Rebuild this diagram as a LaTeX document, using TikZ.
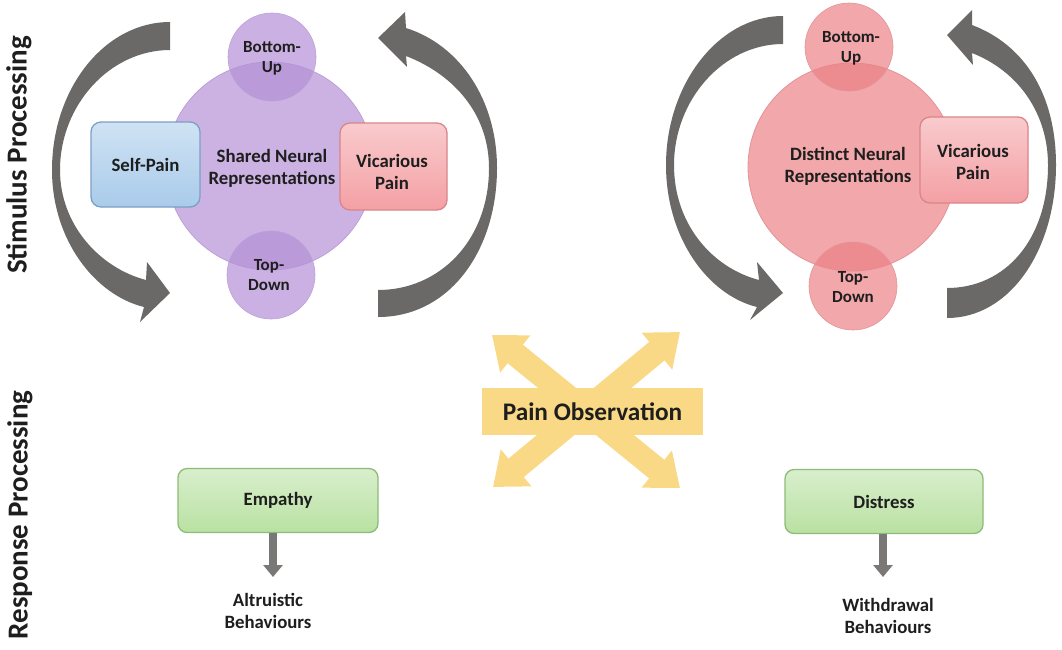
\documentclass[tikz,border=0pt]{standalone}
\usepackage{fontspec}
\setmainfont{Carlito}
\usetikzlibrary{arrows.meta,calc}
\definecolor{gArrow}{HTML}{6B6868}
\definecolor{purpleC}{HTML}{CBB2E3}
\definecolor{purpleS}{HTML}{B590D7}
\definecolor{purpleE}{HTML}{BBA0D8}
\definecolor{pinkC}{HTML}{F2A7AA}
\definecolor{pinkS}{HTML}{EC8186}
\definecolor{pinkE}{HTML}{E39498}
\definecolor{blueB}{HTML}{A9CBEA}
\definecolor{blueE}{HTML}{7C9FC4}
\definecolor{pinkB}{HTML}{F4A0A4}
\definecolor{pinkBE}{HTML}{D98589}
\definecolor{greenB}{HTML}{B9E1A2}
\definecolor{greenE}{HTML}{8DBB78}
\definecolor{yellowA}{HTML}{F9D985}
\definecolor{txtC}{HTML}{1E1E1E}
\begin{document}
\begin{tikzpicture}[x=1pt,y=-1pt,
  every node/.style={inner sep=0pt, outer sep=0pt, text=txtC},
  f18/.style={font=\bfseries\fontsize{18.8}{22}\selectfont, align=center},
  f16/.style={font=\bfseries\fontsize{17}{20}\selectfont, align=center},
  bigc/.style={circle, draw=#1, line width=0.8pt, minimum size=208pt},
  smallc/.style={circle, fill opacity=0.7, line width=0.6pt, minimum size=88pt},
  pbox/.style={rectangle, rounded corners=10pt, line width=1.3pt},
  gbox/.style={rectangle, rounded corners=9pt, line width=1.3pt, draw=greenE,
     top color=greenB!55!white, bottom color=greenB, minimum width=200pt, minimum height=64pt},
  garrow/.style={fill=gArrow},
  xarrow/.style={draw=yellowA, line width=24pt,
     {Triangle[width=46pt,length=30pt]}-{Triangle[width=46pt,length=30pt]}},
  downarr/.style={draw=gArrow!90!white, line width=8pt, -{Triangle[width=19pt,length=12pt]}},
  side/.style={rotate=90, font=\bfseries\fontsize{29}{33}\selectfont}
]
\useasboundingbox (0,0) rectangle (1062,649);

% ---------- curved grey arrows ----------
\fill[garrow] (170,22) .. controls (105,22) and (52,88) .. (52,170)
  .. controls (52,240) and (95,295) .. (144,307) -- (140,322) -- (170,293)
  -- (147,262) -- (146,280) .. controls (100,268) and (60,225) .. (60,170)
  .. controls (60,105) and (110,50) .. (170,50) -- cycle;
\fill[garrow] (378,317) .. controls (450,317) and (497,250) .. (497,168)
  .. controls (497,100) and (460,45) .. (406,28) -- (405,12) -- (378,38)
  -- (407,67) -- (406,56) .. controls (455,75) and (489,115) .. (489,168)
  .. controls (489,240) and (440,290) .. (378,290) -- cycle;
\fill[garrow] (783,16) .. controls (718,16) and (666,85) .. (666,165)
  .. controls (666,238) and (708,295) .. (757,307) -- (750,320) -- (783,293)
  -- (757,262) -- (759,280) .. controls (713,268) and (674,225) .. (674,165)
  .. controls (674,100) and (723,44) .. (783,44) -- cycle;
\fill[garrow] (947,318) .. controls (1010,318) and (1056,250) .. (1056,165)
  .. controls (1056,95) and (1025,45) .. (972,25) -- (972,10) -- (947,35)
  -- (973,65) -- (972,53) .. controls (1020,72) and (1048,115) .. (1048,165)
  .. controls (1048,240) and (1005,288) .. (947,288) -- cycle;

% ---------- left cluster ----------
\node[bigc=purpleE, fill=purpleC] (shared) at (270,166) {};
\node[smallc, fill=purpleS, draw=purpleE] (bu1) at (272,57) {};
\node[smallc, fill=purpleS, draw=purpleE] (td1) at (271,275) {};
\node[pbox, draw=blueE, top color=blueB!55!white, bottom color=blueB,
      minimum width=109pt, minimum height=85pt, f18] (self) at (145.5,164.5) {Self-Pain};
\node[pbox, draw=pinkBE, top color=pinkB!55!white, bottom color=pinkB,
      minimum width=107pt, minimum height=87pt] (vic1) at (393.5,166.5) {};
\node[f18] at (272,168) {Shared Neural\\Representations};
\node[f16] at (272,58) {Bottom-\\Up};
\node[f16] at (269,275) {Top-\\Down};
\node[f18] at (392,172) {Vicarious\\Pain};

% ---------- right cluster ----------
\node[bigc=pinkE, fill=pinkC] (distinct) at (852,167) {};
\node[smallc, fill=pinkS, draw=pinkE] (bu2) at (849,47) {};
\node[smallc, fill=pinkS, draw=pinkE] (td2) at (853,286) {};
\node[pbox, draw=pinkBE, top color=pinkB!55!white, bottom color=pinkB,
      minimum width=108pt, minimum height=86pt] (vic2) at (974,160) {};
\node[f18] at (848,166) {Distinct Neural\\Representations};
\node[f16] at (851,48) {Bottom-\\Up};
\node[f16] at (853,287) {Top-\\Down};
\node[f18] at (973,162) {Vicarious\\Pain};

% ---------- pain observation ----------
\coordinate (tl) at (492,335);
\coordinate (br) at (680,488);
\coordinate (tr) at (680,332);
\coordinate (bl) at (493,487);
\draw[xarrow] (tl) -- (br);
\draw[xarrow] (tr) -- (bl);
\node[rectangle, fill=yellowA, minimum width=221pt, minimum height=47pt,
      font=\bfseries\fontsize{25.3}{29}\selectfont] (obs) at (592.5,411.5) {Pain Observation};

% ---------- response ----------
\node[gbox, f18] (emp) at (278,500.5) {Empathy};
\node[gbox, minimum width=198pt, f18] (dis) at (884,501.5) {Distress};
\coordinate (ea) at (273,577);
\coordinate (da) at (883,577);
\draw[downarr] (emp.south -| ea) -- (ea);
\draw[downarr] (dis.south -| da) -- (da);
\node[f18] (alt) at (268,611) {Altruistic\\Behaviours};
\node[f18] (wd) at (888,616) {Withdrawal\\Behaviours};

% ---------- side labels ----------
\node[side] (stim) at (19,155) {Stimulus Processing};
\node[side] (resp) at (20,515) {Response Processing};
\end{tikzpicture}
\end{document}
